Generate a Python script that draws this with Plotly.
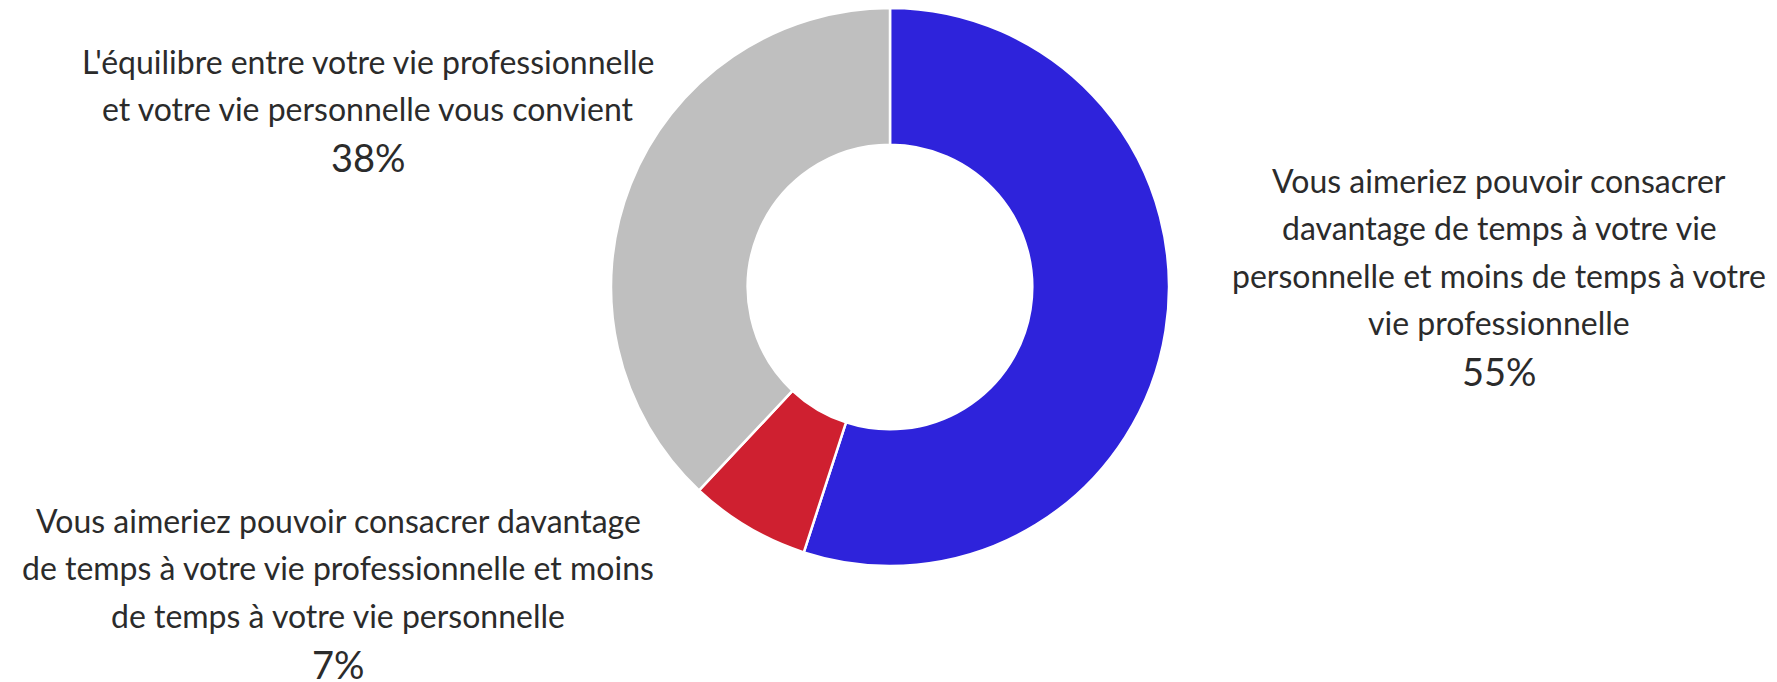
import plotly.graph_objects as go

W, H = 1777, 682
OFF = 8  # page body margin

categories = [
    "Vous aimeriez pouvoir consacrer davantage de temps à votre vie personnelle et moins de temps à votre vie professionnelle",
    "Vous aimeriez pouvoir consacrer davantage de temps à votre vie professionnelle et moins de temps à votre vie personnelle",
    "L'équilibre entre votre vie professionnelle et votre vie personnelle vous convient",
]
values = [55, 7, 38]
colors = ["#2E23DB", "#CF2030", "#BFBFBF"]

label_lines = [
    ["Vous aimeriez pouvoir consacrer", "davantage de temps à votre vie",
     "personnelle et moins de temps à votre", "vie professionnelle"],
    ["Vous aimeriez pouvoir consacrer davantage",
     "de temps à votre vie professionnelle et moins",
     "de temps à votre vie personnelle"],
    ["L'équilibre entre votre vie professionnelle",
     "et votre vie personnelle vous convient"],
]
pct_labels = ["55%", "7%", "38%"]

# layout (pixels, in reference page coordinates)
cx, cy, R = 890 - OFF, 287 - OFF, 279
label_x = [1499 - OFF, 338 - OFF, 368 - OFF]
first_baseline = [193 - OFF, 533 - OFF, 74 - OFF]
line_gap = 47.5
pct_gap = 51
FONT = "Lato, 'Open Sans', sans-serif"
fs_text, fs_pct = 32, 38
txt_color = "#2b2b2b"

fig = go.Figure(go.Pie(
    labels=categories, values=values, sort=False, direction="clockwise",
    rotation=0, hole=0.51, textinfo="none", hoverinfo="label+percent",
    marker=dict(colors=colors, line=dict(color="white", width=2.5)),
    domain=dict(x=[(cx - R) / W, (cx + R) / W], y=[1 - (cy + R) / H, 1 - (cy - R) / H]),
    showlegend=False,
))

def add_line(text, x_px, baseline_px, size):
    mid = baseline_px - 0.4 * size
    fig.add_annotation(text=text, x=x_px / W, y=1 - mid / H, xref="paper", yref="paper",
                       xanchor="center", yanchor="middle", showarrow=False,
                       font=dict(family=FONT, size=size, color=txt_color, weight=400))

for i in range(len(categories)):
    b = first_baseline[i]
    for j, ln in enumerate(label_lines[i]):
        add_line(ln, label_x[i], b + j * line_gap, fs_text)
    pb = b + (len(label_lines[i]) - 1) * line_gap + pct_gap
    add_line(pct_labels[i], label_x[i], pb, fs_pct)

fig.update_layout(width=W, height=H, margin=dict(l=0, r=0, t=0, b=0),
                  paper_bgcolor="white", plot_bgcolor="white")
fig.write_html("out.html")
